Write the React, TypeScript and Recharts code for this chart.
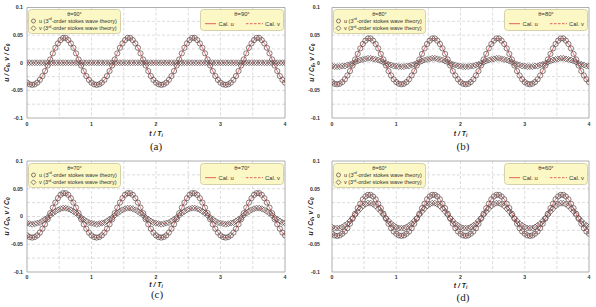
import { LineChart, Line, XAxis, YAxis, CartesianGrid, ReferenceArea } from "recharts";

// sample times t / Ti
const times = [
  0, 0.04, 0.08, 0.12, 0.16, 0.2, 0.24, 0.28, 0.32, 0.36, 0.4, 0.44, 0.48, 0.52, 0.56, 0.6, 0.64, 0.68, 0.72, 0.76, 0.8, 0.84, 0.88, 0.92, 0.96,
  1, 1.04, 1.08, 1.12, 1.16, 1.2, 1.24, 1.28, 1.32, 1.36, 1.4, 1.44, 1.48, 1.52, 1.56, 1.6, 1.64, 1.68, 1.72, 1.76, 1.8, 1.84, 1.88, 1.92, 1.96,
  2, 2.04, 2.08, 2.12, 2.16, 2.2, 2.24, 2.28, 2.32, 2.36, 2.4, 2.44, 2.48, 2.52, 2.56, 2.6, 2.64, 2.68, 2.72, 2.76, 2.8, 2.84, 2.88, 2.92, 2.96,
  3, 3.04, 3.08, 3.12, 3.16, 3.2, 3.24, 3.28, 3.32, 3.36, 3.4, 3.44, 3.48, 3.52, 3.56, 3.6, 3.64, 3.68, 3.72, 3.76, 3.8, 3.84, 3.88, 3.92, 3.96,
  4,
];

// θ = 90°
const uTheory90 = [
  -0.036, -0.039, -0.04, -0.039, -0.036, -0.031, -0.024, -0.015, -0.005, 0.006, 0.017, 0.027, 0.035, 0.041, 0.045, 0.045, 0.041, 0.035, 0.027, 0.017, 0.006, -0.005, -0.015, -0.024, -0.031,
  -0.036, -0.039, -0.04, -0.039, -0.036, -0.031, -0.024, -0.015, -0.005, 0.006, 0.017, 0.027, 0.035, 0.041, 0.045, 0.045, 0.041, 0.035, 0.027, 0.017, 0.006, -0.005, -0.015, -0.024, -0.031,
  -0.036, -0.039, -0.04, -0.039, -0.036, -0.031, -0.024, -0.015, -0.005, 0.006, 0.017, 0.027, 0.035, 0.041, 0.045, 0.045, 0.041, 0.035, 0.027, 0.017, 0.006, -0.005, -0.015, -0.024, -0.031,
  -0.036, -0.039, -0.04, -0.039, -0.036, -0.031, -0.024, -0.015, -0.005, 0.006, 0.017, 0.027, 0.035, 0.041, 0.045, 0.045, 0.041, 0.035, 0.027, 0.017, 0.006, -0.005, -0.015, -0.024, -0.031,
  -0.036,
];
const vTheory90 = [
  0, 0, 0, 0, 0, 0, 0, 0, 0, 0, 0, 0, 0, 0, 0, 0, 0, 0, 0, 0, 0, 0, 0, 0, 0,
  0, 0, 0, 0, 0, 0, 0, 0, 0, 0, 0, 0, 0, 0, 0, 0, 0, 0, 0, 0, 0, 0, 0, 0, 0,
  0, 0, 0, 0, 0, 0, 0, 0, 0, 0, 0, 0, 0, 0, 0, 0, 0, 0, 0, 0, 0, 0, 0, 0, 0,
  0, 0, 0, 0, 0, 0, 0, 0, 0, 0, 0, 0, 0, 0, 0, 0, 0, 0, 0, 0, 0, 0, 0, 0, 0,
  0,
];

// θ = 80°
const uTheory80 = [
  -0.035, -0.038, -0.039, -0.038, -0.035, -0.03, -0.023, -0.015, -0.005, 0.006, 0.016, 0.026, 0.034, 0.04, 0.044, 0.044, 0.04, 0.034, 0.026, 0.016, 0.006, -0.005, -0.015, -0.023, -0.03,
  -0.035, -0.038, -0.039, -0.038, -0.035, -0.03, -0.023, -0.015, -0.005, 0.006, 0.016, 0.026, 0.034, 0.04, 0.044, 0.044, 0.04, 0.034, 0.026, 0.016, 0.006, -0.005, -0.015, -0.023, -0.03,
  -0.035, -0.038, -0.039, -0.038, -0.035, -0.03, -0.023, -0.015, -0.005, 0.006, 0.016, 0.026, 0.034, 0.04, 0.044, 0.044, 0.04, 0.034, 0.026, 0.016, 0.006, -0.005, -0.015, -0.023, -0.03,
  -0.035, -0.038, -0.039, -0.038, -0.035, -0.03, -0.023, -0.015, -0.005, 0.006, 0.016, 0.026, 0.034, 0.04, 0.044, 0.044, 0.04, 0.034, 0.026, 0.016, 0.006, -0.005, -0.015, -0.023, -0.03,
  -0.035,
];
const vTheory80 = [
  -0.006, -0.007, -0.007, -0.007, -0.006, -0.006, -0.004, -0.003, -0.001, 0.001, 0.003, 0.005, 0.006, 0.007, 0.008, 0.008, 0.007, 0.006, 0.005, 0.003, 0.001, -0.001, -0.003, -0.004, -0.006,
  -0.006, -0.007, -0.007, -0.007, -0.006, -0.006, -0.004, -0.003, -0.001, 0.001, 0.003, 0.005, 0.006, 0.007, 0.008, 0.008, 0.007, 0.006, 0.005, 0.003, 0.001, -0.001, -0.003, -0.004, -0.006,
  -0.006, -0.007, -0.007, -0.007, -0.006, -0.006, -0.004, -0.003, -0.001, 0.001, 0.003, 0.005, 0.006, 0.007, 0.008, 0.008, 0.007, 0.006, 0.005, 0.003, 0.001, -0.001, -0.003, -0.004, -0.006,
  -0.006, -0.007, -0.007, -0.007, -0.006, -0.006, -0.004, -0.003, -0.001, 0.001, 0.003, 0.005, 0.006, 0.007, 0.008, 0.008, 0.007, 0.006, 0.005, 0.003, 0.001, -0.001, -0.003, -0.004, -0.006,
  -0.006,
];

// θ = 70°
const uTheory70 = [
  -0.034, -0.037, -0.038, -0.037, -0.034, -0.029, -0.022, -0.014, -0.005, 0.006, 0.016, 0.025, 0.033, 0.039, 0.042, 0.042, 0.039, 0.033, 0.025, 0.016, 0.006, -0.005, -0.014, -0.022, -0.029,
  -0.034, -0.037, -0.038, -0.037, -0.034, -0.029, -0.022, -0.014, -0.005, 0.006, 0.016, 0.025, 0.033, 0.039, 0.042, 0.042, 0.039, 0.033, 0.025, 0.016, 0.006, -0.005, -0.014, -0.022, -0.029,
  -0.034, -0.037, -0.038, -0.037, -0.034, -0.029, -0.022, -0.014, -0.005, 0.006, 0.016, 0.025, 0.033, 0.039, 0.042, 0.042, 0.039, 0.033, 0.025, 0.016, 0.006, -0.005, -0.014, -0.022, -0.029,
  -0.034, -0.037, -0.038, -0.037, -0.034, -0.029, -0.022, -0.014, -0.005, 0.006, 0.016, 0.025, 0.033, 0.039, 0.042, 0.042, 0.039, 0.033, 0.025, 0.016, 0.006, -0.005, -0.014, -0.022, -0.029,
  -0.034,
];
const vTheory70 = [
  -0.012, -0.013, -0.014, -0.013, -0.012, -0.011, -0.008, -0.005, -0.002, 0.002, 0.006, 0.009, 0.012, 0.014, 0.015, 0.015, 0.014, 0.012, 0.009, 0.006, 0.002, -0.002, -0.005, -0.008, -0.011,
  -0.012, -0.013, -0.014, -0.013, -0.012, -0.011, -0.008, -0.005, -0.002, 0.002, 0.006, 0.009, 0.012, 0.014, 0.015, 0.015, 0.014, 0.012, 0.009, 0.006, 0.002, -0.002, -0.005, -0.008, -0.011,
  -0.012, -0.013, -0.014, -0.013, -0.012, -0.011, -0.008, -0.005, -0.002, 0.002, 0.006, 0.009, 0.012, 0.014, 0.015, 0.015, 0.014, 0.012, 0.009, 0.006, 0.002, -0.002, -0.005, -0.008, -0.011,
  -0.012, -0.013, -0.014, -0.013, -0.012, -0.011, -0.008, -0.005, -0.002, 0.002, 0.006, 0.009, 0.012, 0.014, 0.015, 0.015, 0.014, 0.012, 0.009, 0.006, 0.002, -0.002, -0.005, -0.008, -0.011,
  -0.012,
];

// θ = 60°
const uTheory60 = [
  -0.031, -0.034, -0.035, -0.034, -0.031, -0.027, -0.021, -0.013, -0.004, 0.005, 0.015, 0.023, 0.031, 0.036, 0.039, 0.039, 0.036, 0.031, 0.023, 0.015, 0.005, -0.004, -0.013, -0.021, -0.027,
  -0.031, -0.034, -0.035, -0.034, -0.031, -0.027, -0.021, -0.013, -0.004, 0.005, 0.015, 0.023, 0.031, 0.036, 0.039, 0.039, 0.036, 0.031, 0.023, 0.015, 0.005, -0.004, -0.013, -0.021, -0.027,
  -0.031, -0.034, -0.035, -0.034, -0.031, -0.027, -0.021, -0.013, -0.004, 0.005, 0.015, 0.023, 0.031, 0.036, 0.039, 0.039, 0.036, 0.031, 0.023, 0.015, 0.005, -0.004, -0.013, -0.021, -0.027,
  -0.031, -0.034, -0.035, -0.034, -0.031, -0.027, -0.021, -0.013, -0.004, 0.005, 0.015, 0.023, 0.031, 0.036, 0.039, 0.039, 0.036, 0.031, 0.023, 0.015, 0.005, -0.004, -0.013, -0.021, -0.027,
  -0.031,
];
const vTheory60 = [
  -0.019, -0.021, -0.021, -0.021, -0.019, -0.016, -0.013, -0.008, -0.003, 0.003, 0.009, 0.014, 0.019, 0.022, 0.024, 0.024, 0.022, 0.019, 0.014, 0.009, 0.003, -0.003, -0.008, -0.013, -0.016,
  -0.019, -0.021, -0.021, -0.021, -0.019, -0.016, -0.013, -0.008, -0.003, 0.003, 0.009, 0.014, 0.019, 0.022, 0.024, 0.024, 0.022, 0.019, 0.014, 0.009, 0.003, -0.003, -0.008, -0.013, -0.016,
  -0.019, -0.021, -0.021, -0.021, -0.019, -0.016, -0.013, -0.008, -0.003, 0.003, 0.009, 0.014, 0.019, 0.022, 0.024, 0.024, 0.022, 0.019, 0.014, 0.009, 0.003, -0.003, -0.008, -0.013, -0.016,
  -0.019, -0.021, -0.021, -0.021, -0.019, -0.016, -0.013, -0.008, -0.003, 0.003, 0.009, 0.014, 0.019, 0.022, 0.024, 0.024, 0.022, 0.019, 0.014, 0.009, 0.003, -0.003, -0.008, -0.013, -0.016,
  -0.019,
];

const tTicks = [0, 1, 2, 3, 4];
const yTicks = [-0.1, -0.05, 0, 0.05, 0.1];
const tGrid = [0.5, 1, 1.5, 2, 2.5, 3, 3.5];
const yGrid = [-0.075, -0.05, -0.025, 0, 0.025, 0.05, 0.075];

const RED = "#e0524f";
const MARK = "#5a4646";
const GRID = "#c6c6c6";
const FRAME = "#9a9a9a";
const BOX_FILL = "#fbf8c6";
const BOX_EDGE = "#cdc69c";
const SANS = "'Liberation Sans', Arial, sans-serif";
const SERIF = "'Liberation Serif', 'Times New Roman', serif";

const W = 296;

type Plot = { left: number; right: number; top: number; bottom: number };
type Panel = {
  tag: string;
  angle: number;
  u: number[];
  v: number[];
  x: number;
  y: number;
  h: number;
  plot: Plot;
  yTickGap: number;
  yTitleX: number;
  xTickGap: number;
  xTitleDy: number;
  caption: { x: number; y: number };
};

const panels: Panel[] = [
  {
    tag: "(a)", angle: 90, u: uTheory90, v: vTheory90, x: 0, y: 0, h: 150,
    plot: { left: 27, right: 285, top: 7.5, bottom: 118 },
    yTickGap: 4, yTitleX: 6, xTickGap: 4, xTitleDy: 15, caption: { x: 156, y: 146 },
  },
  {
    tag: "(b)", angle: 80, u: uTheory80, v: vTheory80, x: 296, y: 0, h: 150,
    plot: { left: 36, right: 293, top: 7.5, bottom: 118 },
    yTickGap: 12, yTitleX: 15, xTickGap: 4, xTitleDy: 15, caption: { x: 167, y: 146 },
  },
  {
    tag: "(c)", angle: 70, u: uTheory70, v: vTheory70, x: 0, y: 150, h: 157,
    plot: { left: 27, right: 285, top: 11, bottom: 122 },
    yTickGap: 4, yTitleX: 6, xTickGap: 3.5, xTitleDy: 12, caption: { x: 157, y: 144.5 },
  },
  {
    tag: "(d)", angle: 60, u: uTheory60, v: vTheory60, x: 296, y: 150, h: 157,
    plot: { left: 36, right: 293, top: 11, bottom: 122 },
    yTickGap: 12, yTitleX: 14, xTickGap: 3.5, xTitleDy: 13.5, caption: { x: 167, y: 147 },
  },
];

const circleDot = (p: any) => {
  if (p.cx == null || p.cy == null) return <g key={`c${p.index}`} />;
  return <circle key={`c${p.index}`} cx={p.cx} cy={p.cy} r={2.6} fill="none" stroke={MARK} strokeWidth={0.7} />;
};

const diamondDot = (p: any) => {
  if (p.cx == null || p.cy == null) return <g key={`d${p.index}`} />;
  const { cx, cy } = p;
  const s = 3;
  return (
    <polygon
      key={`d${p.index}`}
      points={`${cx},${cy - s} ${cx + s},${cy} ${cx},${cy + s} ${cx - s},${cy}`}
      fill="none"
      stroke={MARK}
      strokeWidth={0.7}
    />
  );
};

const YTitle = ({ viewBox, cx }: any) => {
  const cy = viewBox.y + viewBox.height / 2;
  return (
    <text
      x={cx}
      y={cy}
      transform={`rotate(-90 ${cx} ${cy})`}
      textAnchor="middle"
      dominantBaseline="central"
      fontFamily={SANS}
      fontSize={6.8}
      fontWeight="bold"
      fontStyle="italic"
      fill="#222"
    >
      u / C<tspan dy={1.6} fontSize={4.8}>0</tspan>
      <tspan dy={-1.6}>, v / C</tspan>
      <tspan dy={1.6} fontSize={4.8}>0</tspan>
    </text>
  );
};

const XTitle = ({ viewBox, dy }: any) => {
  const x = viewBox.x + viewBox.width / 2;
  const y = viewBox.y + dy;
  return (
    <text
      x={x}
      y={y}
      textAnchor="middle"
      dominantBaseline="central"
      fontFamily={SANS}
      fontSize={6.8}
      fontWeight="bold"
      fontStyle="italic"
      fill="#222"
    >
      t / T<tspan dy={1.6} fontSize={4.8}>i</tspan>
    </text>
  );
};

const TheoryKey = ({ angle, left, top }: { angle: number; left: number; top: number }) => (
  <svg width={93} height={25} style={{ position: "absolute", left, top }}>
    <rect x={0.5} y={0.5} width={92} height={24} rx={3} fill={BOX_FILL} stroke={BOX_EDGE} strokeWidth={0.8} />
    <g fontFamily={SANS} fontSize={5.5} fill="#333">
      <text x={46.5} y={4.5} textAnchor="middle" dominantBaseline="central">θ={angle}°</text>
      <circle cx={5.5} cy={12} r={2} fill="none" stroke={MARK} strokeWidth={0.7} />
      <text x={11} y={12} dominantBaseline="central">
        u (3<tspan dy={-1.6} fontSize={3.6}>rd</tspan>
        <tspan dy={1.6}>-order stokes wave theory)</tspan>
      </text>
      <polygon points="5.5,16.8 8,19.3 5.5,21.8 3,19.3" fill="none" stroke={MARK} strokeWidth={0.7} />
      <text x={11} y={19.3} dominantBaseline="central">
        v (3<tspan dy={-1.6} fontSize={3.6}>rd</tspan>
        <tspan dy={1.6}>-order stokes wave theory)</tspan>
      </text>
    </g>
  </svg>
);

const CalKey = ({ angle, left, top }: { angle: number; left: number; top: number }) => (
  <svg width={84} height={22} style={{ position: "absolute", left, top }}>
    <rect x={0.5} y={0.5} width={83} height={21} rx={3} fill={BOX_FILL} stroke={BOX_EDGE} strokeWidth={0.8} />
    <g fontFamily={SANS} fontSize={5.8} fill="#333">
      <text x={42} y={5} textAnchor="middle" dominantBaseline="central">θ={angle}°</text>
      <line x1={5} x2={16} y1={14.7} y2={14.7} stroke={RED} strokeWidth={0.9} />
      <text x={18.5} y={14.7} dominantBaseline="central">Cal. u</text>
      <line x1={46} x2={63} y1={14.7} y2={14.7} stroke={RED} strokeWidth={0.9} strokeDasharray="2.5 1.5" />
      <text x={65} y={14.7} dominantBaseline="central">Cal. v</text>
    </g>
  </svg>
);

const WavePanel = ({ p }: { p: Panel }) => {
  const rows = times.map((t, i) => ({ t, u: p.u[i], v: p.v[i] }));
  const { plot } = p;
  const axisH = 24;
  return (
    <div style={{ position: "absolute", left: p.x, top: p.y, width: W, height: p.h }}>
      <LineChart
        width={W}
        height={p.h}
        data={rows}
        margin={{ top: plot.top, right: W - plot.right, bottom: p.h - plot.bottom - axisH, left: 0 }}
      >
        <CartesianGrid
          stroke={GRID}
          strokeDasharray="3 2"
          strokeWidth={0.6}
          horizontalValues={yGrid}
          verticalValues={tGrid}
        />
        <XAxis
          type="number"
          dataKey="t"
          domain={[0, 4]}
          ticks={tTicks}
          interval={0}
          allowDataOverflow
          height={axisH}
          tickSize={0}
          tickMargin={p.xTickGap}
          axisLine={false}
          tickLine={false}
          tick={{ fontSize: 5.2, fontWeight: "bold", fill: "#333", fontFamily: SANS }}
          label={<XTitle dy={p.xTitleDy} />}
        />
        <YAxis
          type="number"
          domain={[-0.1, 0.1]}
          ticks={yTicks}
          interval={0}
          allowDataOverflow
          width={plot.left}
          tickSize={0}
          tickMargin={p.yTickGap}
          axisLine={false}
          tickLine={false}
          tick={{ fontSize: 5.2, fontWeight: "bold", fill: "#333", fontFamily: SANS }}
          label={<YTitle cx={p.yTitleX} />}
        />
        <ReferenceArea x1={0} x2={4} y1={-0.1} y2={0.1} fill="none" stroke={FRAME} strokeWidth={0.8} />
        <Line name="u theory" dataKey="u" stroke="none" dot={circleDot} activeDot={false} isAnimationActive={false} />
        <Line name="v theory" dataKey="v" stroke="none" dot={diamondDot} activeDot={false} isAnimationActive={false} />
        <Line name="Cal. u" dataKey="u" type="monotone" stroke={RED} strokeWidth={0.8} dot={false} activeDot={false} isAnimationActive={false} />
        <Line
          name="Cal. v"
          dataKey="v"
          type="monotone"
          stroke={RED}
          strokeWidth={0.8}
          strokeDasharray="3 2"
          dot={false}
          activeDot={false}
          isAnimationActive={false}
        />
      </LineChart>
      <TheoryKey angle={p.angle} left={plot.left + 1} top={plot.top + 1.5} />
      <CalKey angle={p.angle} left={plot.right - 85} top={plot.top + 1.5} />
      <div
        style={{
          position: "absolute",
          left: p.caption.x - 20,
          top: p.caption.y - 6.5,
          width: 40,
          textAlign: "center",
          fontFamily: SERIF,
          fontSize: 11,
          lineHeight: "13px",
          color: "#222",
        }}
      >
        {p.tag}
      </div>
    </div>
  );
};

export default function App() {
  return (
    <div style={{ position: "fixed", left: 0, top: 0, width: 596, height: 307, background: "#fff", overflow: "hidden" }}>
      {panels.map((p) => (
        <WavePanel key={p.tag} p={p} />
      ))}
    </div>
  );
}
